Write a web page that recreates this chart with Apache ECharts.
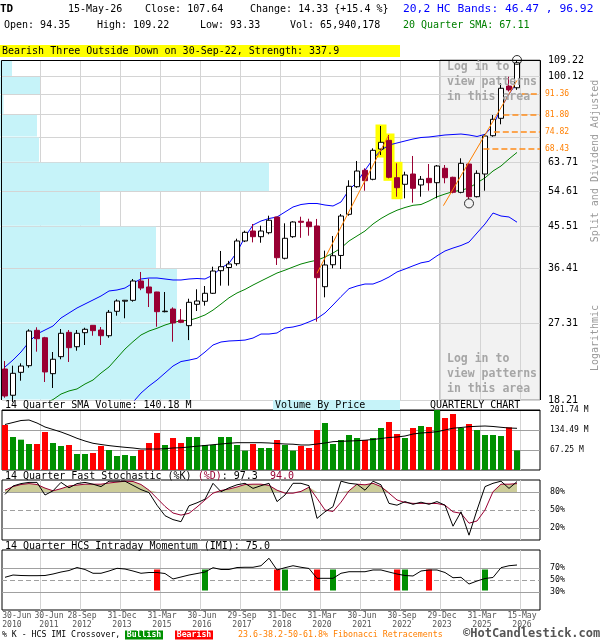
<!DOCTYPE html>
<html>
<head>
<meta charset="utf-8">
<title>TD Quarterly Chart</title>
<script src="https://cdn.jsdelivr.net/npm/echarts@6.0.0/dist/echarts.min.js"></script>
<style>
html,body{margin:0;padding:0;background:#fff;}
#chart{width:600px;height:640px;}
</style>
</head>
<body>
<div id="chart"></div>
<script>
// ================= DATA =================
const symbolName = 'TD';
const lastDate = '15-May-26';
const lastVolume = 65940178;
const patternText = 'Bearish Three Outside Down on 30-Sep-22, Strength: 337.9';

// quarterly candles 2010-Q2 .. 2026-Q2
const quarters = [];
for (let y = 2010, q = 2; quarters.length < 65; ) { quarters.push(y + '-Q' + q); q++; if (q > 4) { q = 1; y++; } }

const opens  = [21.44,18.67,21.07,21.82,26.29,25.28,20.92,22.88,26.01,24.11,
                25.96,26.99,26.33,25.55,29.06,30.65,30.79,34.09,33.03,32.17,
                29.00,29.41,27.74,26.94,30.15,30.63,31.95,35.99,36.60,37.35,
                42.09,44.36,43.05,43.97,47.76,38.42,43.05,46.70,46.52,45.55,
                33.08,37.14,39.00,48.44,56.02,61.08,58.25,68.33,71.53,58.75,
                56.74,59.90,56.53,58.55,57.22,61.73,58.87,54.39,63.14,53.15,
                59.90,73.29,80.33,95.20,94.35];
const highs  = [22.36,21.82,22.09,26.43,26.71,25.40,23.45,26.47,26.33,26.33,
                26.65,27.00,26.75,29.26,30.95,30.85,34.45,35.75,34.50,32.20,
                32.17,29.67,29.41,31.05,32.63,33.20,36.76,39.93,37.90,42.60,
                44.43,46.03,45.62,48.09,47.80,46.20,46.70,47.83,47.33,47.27,
                40.00,43.21,48.52,57.95,64.15,61.73,68.58,77.14,73.57,63.37,
                60.63,65.87,59.27,63.14,62.81,62.81,59.05,65.07,63.37,61.08,
                73.84,81.74,96.60,100.00,109.22];
const lows   = [18.43,18.00,20.16,21.59,23.49,20.02,19.40,22.57,22.25,23.61,
                24.33,25.55,24.33,25.28,28.39,28.01,30.57,32.48,29.72,26.79,
                28.90,24.76,27.30,24.97,29.10,29.93,31.83,33.26,33.26,36.95,
                41.85,41.78,41.70,43.60,37.09,38.20,42.80,42.80,43.28,27.51,
                31.28,36.45,36.31,48.09,55.70,54.86,57.95,66.20,58.55,53.15,
                52.70,51.50,53.15,54.86,52.70,57.04,54.10,54.10,52.51,52.95,
                54.86,72.90,77.83,92.50,93.33];
const closes = [18.60,20.96,21.78,26.19,25.15,21.11,22.57,25.88,23.99,25.88,
                26.43,26.24,25.55,28.91,30.68,30.80,34.09,32.85,32.00,29.00,
                29.08,27.32,27.42,30.47,30.68,31.95,35.93,36.76,37.28,42.09,
                44.06,43.05,44.36,46.95,38.54,42.69,46.52,46.45,45.38,34.69,
                37.09,38.95,48.01,56.14,60.85,57.82,67.86,70.79,58.87,55.73,
                59.59,55.56,58.25,57.22,62.48,58.75,54.39,63.37,53.15,60.12,
                73.18,79.91,94.10,93.31,107.64];

// quarterly volume, millions of shares
const volumes = [151.3,111,102,87.4,87.4,127.8,90.8,80.7,84,53.8,
                 53.8,57.2,80.7,67.2,47.1,50.4,47.1,67.2,90.8,124.4,
                 84,107.6,90.8,111,111,84,84,111,111,84,
                 65,87.4,74,74,100.9,84,65,80.7,74,134.5,
                 158,87.4,100.9,117.7,107.6,100.9,107.6,141.2,161.4,121,
                 107.6,141.2,148,144.6,201.74,174.8,188.3,141.2,154.7,134.5,
                 117.7,117.7,114.3,143.5,65.94];
// 14 quarter SMA of volume
const volSma = [153,159.7,166.4,168.1,158,144.6,136.2,127.8,117.7,106.6,
                97.5,89.8,85.7,82,79,76.3,74,70.6,70.6,70.6,
                71.6,74,75,77.3,80,82.4,85.1,87.4,89.8,91.8,
                91.8,91.8,91.8,90.8,89.1,87.4,86.7,84.1,84.1,87.4,
                90.8,95.2,96.5,97.5,98.5,100.2,102.5,105.9,109.3,111,
                114.3,121,124.4,126.1,128.8,134.5,140.5,142.9,145.6,146.9,
                147.9,146.3,143.6,141.2,140.18];

// 20 quarter SMA and 20,2 HC bands
const sma20 = [null,null,null,null,null,17.9,18.25,18.79,19.1,19.3,
               19.81,20.23,20.99,21.67,22.72,23.82,24.76,25.65,26.19,26.57,
               27.03,27.39,27.64,27.7,28.04,28.5,29.24,30.19,31.2,32.0,
               32.61,33.37,34.09,34.81,35.55,36.09,36.69,37.28,37.7,38.04,
               38.67,39.5,40.55,42.09,43.21,44.36,46.03,47.38,48.52,49.49,
               50.21,50.8,51.01,51.96,53.12,53.9,54.6,54.98,55.65,57.17,
               58.69,60.85,62.48,64.84,67.11];
const bandUpper = [21.67,22.48,23.45,24.72,25.78,26.33,26.89,28.05,28.8,29.57,
                   30.2,30.84,31.5,32.34,32.51,32.85,33.73,34.45,34.63,34.63,
                   34.45,34.27,34.27,34.45,34.54,34.45,35.18,36.51,37.42,39.72,
                   42.98,45.79,46.76,47.38,47.76,49.03,50.34,51.01,51.28,51.28,
                   50.87,50.61,51.69,55.06,57.43,61.08,64.83,67.86,69.79,70.53,
                   71.28,72.03,72.6,72.8,73.18,73.57,73.76,73.95,73.57,72.99,
                   73.84,77.14,84.82,91.31,96.92];
const bandLower = [null,null,null,null,null,null,null,null,null,null,
                   null,null,null,null,null,null,18.0,18.89,19.6,20.23,
                   20.99,21.78,22.3,22.47,22.68,23.45,24.33,24.72,24.85,24.9,
                   24.97,25.24,25.78,25.78,25.92,26.61,26.75,27.03,27.48,27.98,
                   28.8,30.04,31.4,32.74,33.2,33.55,33.55,34.09,34.81,35.75,
                   36.31,36.92,37.51,37.81,38.92,39.93,40.55,41.1,41.85,43.9,
                   46.03,48.77,48.01,47.76,46.47];

// 14 quarter fast stochastic
const stochK = [76,90,94,96,96,75,82,96,87,94,
                96,93,89,98,98,98,91,84,79,58,
                40.5,34,30.5,57,62,68,94.5,80.5,87,92,
                94.5,86,90.5,94.5,64,75,94.5,94.5,90.5,36,
                47,55.5,98,94.5,93,83,98,92,61,58,
                64,59.5,63,59.5,64,58,23,47,8,50,
                89,94.5,98,86,97.3];
const stochD = [83,89,92.5,94,92.5,86.5,82,85.5,90,91.5,
                93,93,93,95,96.5,98,97.5,92.5,83,69.5,
                56,45,41.5,44.5,55,66.7,78,82.5,85,88.3,
                92.5,93,93,91,83,78,78,81,88,69.5,
                50,47.5,63,82,93,92,94.5,89,78,66.7,
                62.5,61,61,61,60.8,58,47,44.5,28,31.7,
                50,80.5,93,93,94.0];

// 14 quarter HCS intraday momentum
const imi = [54.5,58.3,57.5,57.2,57.2,57.5,60,63.3,65.8,70.8,
             67.5,61.2,61.2,65,69.5,68.3,65,61.2,62.5,62.5,
             60.8,51.7,55,58.3,60.8,63.3,70.5,67.5,67.5,70.8,
             71.2,71.2,73.8,86.2,66.7,70.5,73.8,71.2,69.2,52.8,
             52.8,52.8,61.2,63.8,63.8,63.8,66.7,66.7,63.3,60,
             57.5,56.7,65,66.7,66.7,62.5,53.8,54.5,43.3,48.3,
             52.5,54.2,70.5,73.8,75.0];
const bullishX = [25, 35, 41, 50, 60];
const bearishX = [19, 34, 39, 49, 53];

// price axis (logarithmic)
const priceGridLines = [18.21,27.31,36.41,45.51,54.61,63.71,72.81,81.91,91.01,100.12,109.22];
const priceAxisLabels = ['18.21','27.31','36.41','45.51','54.61','63.71','100.12','109.22'];
// fibonacci retracements
const fibLevels = [91.36, 81.80, 74.82, 68.43];
const fibStart  = [64.6, 62.3, 61.1, 59.8];
// trend lines [quarter index, price]
const trendLineA = [[39, 35.5], [47.9, 73.2]];
const trendLineB = [[54.8, 50.7], [64, 98.1]];
// highlighted pattern candles and pattern markers
const patternIdx = [47, 48, 49];
const patternMarks = [[58, 51.3], [64, 109.22]];
// volume by price, one value per price band (bottom band first)
const vbpVolume = [188, 175, 154, 98, 267, 37, 35, 1.5, 38, 10];
const vbpAxisMax = 538;

// other axes
const volAxisMax = 201.74;
const volAxisLabels = [201.74, 134.49, 67.25];
const stochLevels = [80, 50, 20];
const imiLevels = [70, 50, 30];
const xTickLabels = ['30-Jun\n2010','30-Jun\n2011','28-Sep\n2012','31-Dec\n2013','31-Mar\n2015',
                     '30-Jun\n2016','29-Sep\n2017','31-Dec\n2018','31-Mar\n2020','30-Jun\n2021',
                     '30-Sep\n2022','29-Dec\n2023','31-Mar\n2025','15-May\n2026'];

// ================= LAYOUT =================
const MONO = '"DejaVu Sans Mono", "Liberation Mono", monospace';
const X_MIN = -0.375, X_MAX = 66.875;
const xGridValues = [4.375,9.375,14.375,19.375,24.375,29.375,34.375,39.375,44.375,49.375,54.375,59.375,64.375];
// label anchors: first two labels are nudged apart as in the reference
const xLabelValues = [X_MIN + 0.02, 5.5, 9.625, 14.625, 19.625, 24.625, 29.625, 34.625, 39.625, 44.625, 49.625, 54.625, 59.625, 64.625];
const SHADE_FROM = 54.375;
const L = closes.length - 1;
const idx = closes.map((_, i) => i);
const lineXY = arr => arr.map((v, i) => v == null ? null : [i, v]).filter(d => d);
const f2 = v => v.toFixed(2);

function xAxisFor(gridIndex, withLabels, z) {
  return {
    type: 'value', gridIndex: gridIndex, min: X_MIN, max: X_MAX, z: z,
    axisLine: { show: false },
    axisTick: { show: false, customValues: xGridValues },
    splitLine: { show: true, lineStyle: { color: '#d4d4d4', width: 1 } },
    axisLabel: withLabels ? {
      show: true, customValues: xLabelValues, showMinLabel: true, showMaxLabel: true, hideOverlap: false,
      formatter: v => xTickLabels[Math.round((v + 0.625) / 5)],
      fontFamily: MONO, fontSize: 8.1, lineHeight: 8.5, color: '#555', margin: 2,
      alignMinLabel: 'left'
    } : { show: false }
  };
}

function txt(x, y, text, size, color, opts) {
  opts = opts || {};
  return {
    type: 'text', x: x, y: y, silent: true, z: 200, rotation: opts.rotation || 0,
    style: Object.assign({
      text: text, fill: color || '#000',
      font: (opts.weight ? opts.weight + ' ' : '') + size + 'px ' + MONO,
      align: opts.align || 'left', verticalAlign: opts.va || 'middle'
    }, opts.style || {})
  };
}

const change = closes[L] - closes[L - 1];
const pct = change / closes[L - 1] * 100;

const graphics = [
  { type: 'polyline', silent: true, z: 150, shape: { points: [[1.5, 400], [1.5, 60.5], [540.5, 60.5], [540.5, 400]] }, style: { stroke: '#000', lineWidth: 1, fill: null } },
  txt(0, 9, symbolName, 11, '#000', { weight: 'bold' }),
  txt(68, 9, lastDate, 10),
  txt(145, 9, 'Close: ' + f2(closes[L]), 10),
  txt(250, 9, 'Change: ' + f2(change) + ' {' + (pct >= 0 ? '+' : '') + pct.toFixed(1) + ' %}', 10),
  txt(403, 9, '20,2 HC Bands: ' + f2(bandLower[L]) + ' , ' + f2(bandUpper[L]), 11.3, '#0000ff'),
  txt(4, 25, 'Open: ' + f2(opens[L]), 10),
  txt(97, 25, 'High: ' + f2(highs[L]), 10),
  txt(200, 25, 'Low: ' + f2(lows[L]), 10),
  txt(290, 25, 'Vol: ' + lastVolume.toLocaleString('en-US'), 10),
  txt(403, 25, '20 Quarter SMA: ' + f2(sma20[L]), 10, '#008000'),
  { type: 'rect', silent: true, z: 150, shape: { x: 0, y: 45, width: 400, height: 12 }, style: { fill: '#ffff00' } },
  txt(2, 51, patternText, 10),
  txt(447, 60, 'Log in to\nview patterns\nin this area', 11.5, '#a6a6a6', { weight: 'bold', va: 'top', style: { lineHeight: 15 } }),
  txt(447, 351.5, 'Log in to\nview patterns\nin this area', 11.5, '#a6a6a6', { weight: 'bold', va: 'top', style: { lineHeight: 15 } }),
  txt(595, 161, 'Split and Dividend Adjusted', 10, '#999', { rotation: Math.PI / 2, align: 'center' }),
  txt(595, 338, 'Logarithmic', 10, '#999', { rotation: Math.PI / 2, align: 'center' }),
  txt(5, 405, '14 Quarter SMA Volume: ' + f2(volSma[L]) + ' M', 10),
  { type: 'rect', silent: true, z: 150, shape: { x: 273, y: 400, width: 127, height: 10 }, style: { fill: '#c6f3f9' } },
  txt(275, 405, 'Volume By Price', 10),
  txt(430, 405, 'QUARTERLY CHART', 10),
  { type: 'text', x: 5, y: 476, silent: true, z: 200, style: {
      text: '{k|14 Quarter Fast Stochastic (%K) }{d|(%D)}{k|: ' + stochK[L].toFixed(1) + '  }{d|' + stochD[L].toFixed(1) + '}',
      verticalAlign: 'middle', align: 'left',
      rich: { k: { fill: '#000', font: '10px ' + MONO }, d: { fill: '#990033', font: '10px ' + MONO } } } },
  txt(5, 546, '14 Quarter HCS Intraday Momentum (IMI): ' + imi[L].toFixed(1), 10),
  txt(2, 635, '% K - HCS IMI Crossover,', 8.2),
  { type: 'rect', silent: true, z: 150, shape: { x: 125, y: 630.5, width: 38, height: 9 }, style: { fill: '#009000' } },
  txt(144, 635, 'Bullish', 8.2, '#fff', { align: 'center', weight: 'bold' }),
  { type: 'rect', silent: true, z: 150, shape: { x: 175, y: 630.5, width: 38, height: 9 }, style: { fill: '#ff0000' } },
  txt(194, 635, 'Bearish', 8.2, '#fff', { align: 'center', weight: 'bold' }),
  txt(238, 635, '23.6-38.2-50-61.8% Fibonacci Retracements', 8.3, '#ff7f00'),
  txt(463, 634, '\u00A9HotCandlestick.com', 12, '#555', { weight: 'bold' })
];

const markLineBase = { silent: true, symbol: ['none', 'none'], animation: false, emphasis: { disabled: true } };

const option = {
  animation: false,
  backgroundColor: '#fff',
  textStyle: { fontFamily: MONO },
  grid: [
    { left: 2, top: 60, width: 538, height: 340, show: false, containLabel: false, outerBoundsMode: 'none' },
    { left: 2, top: 410, width: 538, height: 60, show: true, borderColor: '#000', borderWidth: 1, backgroundColor: 'transparent', containLabel: false, outerBoundsMode: 'none' },
    { left: 2, top: 480, width: 538, height: 60, show: true, borderColor: '#000', borderWidth: 1, backgroundColor: 'transparent', containLabel: false, outerBoundsMode: 'none' },
    { left: 2, top: 550, width: 538, height: 60, show: true, borderColor: '#000', borderWidth: 1, backgroundColor: 'transparent', containLabel: false, outerBoundsMode: 'none' }
  ],
  xAxis: [
    xAxisFor(0, false, 1),
    { type: 'value', gridIndex: 0, min: 0, max: vbpAxisMax, show: false },
    xAxisFor(1, false, 0),
    xAxisFor(2, false, 0),
    xAxisFor(3, true, 0)
  ],
  yAxis: [
    { type: 'log', gridIndex: 0, min: priceGridLines[0], max: priceGridLines[priceGridLines.length - 1], show: false },
    { type: 'value', gridIndex: 1, min: 0, max: volAxisMax, show: false },
    { type: 'value', gridIndex: 2, min: 0, max: 100, show: false },
    { type: 'value', gridIndex: 3, min: 0, max: 100, show: false }
  ],
  series: [
    // ---- main price panel ----
    { type: 'line', name: 'HC Upper', xAxisIndex: 0, yAxisIndex: 0, data: lineXY(bandUpper), symbol: 'none', z: 4, silent: true,
      lineStyle: { color: '#0000ff', width: 1 },
      markLine: Object.assign({}, markLineBase, { z: 1,
        lineStyle: { color: '#d4d4d4', type: 'solid', width: 1 },
        label: { show: true, position: 'end', distance: 8, formatter: '{b}', color: '#000', fontFamily: MONO, fontSize: 10, padding: [0, 0, 5, 0] },
        data: priceGridLines.map(v => ({ yAxis: v, name: f2(v), label: { show: priceAxisLabels.indexOf(f2(v)) >= 0 } })) }),
      markArea: { silent: true, z: 0, animation: false, itemStyle: { color: '#f2f2f2', borderColor: '#8c8c8c', borderWidth: 1 }, emphasis: { disabled: true },
        data: [[{ xAxis: SHADE_FROM }, { xAxis: X_MAX }]] } },
    { type: 'line', name: 'HC Lower', xAxisIndex: 0, yAxisIndex: 0, data: lineXY(bandLower), symbol: 'none', z: 4, silent: true,
      lineStyle: { color: '#0000ff', width: 1 } },
    { type: 'line', name: 'SMA 20', xAxisIndex: 0, yAxisIndex: 0, data: lineXY(sma20), symbol: 'none', z: 4, silent: true,
      lineStyle: { color: '#008000', width: 1 } },
    { type: 'custom', name: 'Volume By Price', xAxisIndex: 1, yAxisIndex: 0, z: 2, silent: true,
      data: vbpVolume.map((v, k) => [priceGridLines[k], priceGridLines[k + 1], v]),
      encode: { x: 2, y: [0, 1] },
      renderItem: (params, api) => {
        const p0 = api.coord([0, api.value(1)]);
        const p1 = api.coord([api.value(2), api.value(0)]);
        return { type: 'rect', shape: { x: p0[0] - 2, y: p0[1] + 0.5, width: p1[0] - p0[0] + 2, height: p1[1] - p0[1] - 1 }, style: { fill: '#c6f3f9' } };
      } },
    { type: 'custom', name: 'Pattern', xAxisIndex: 0, yAxisIndex: 0, z: 3, silent: true,
      data: patternIdx.map(i => [i, highs[i], lows[i]]),
      encode: { x: 0, y: [1, 2] },
      renderItem: (params, api) => {
        const p0 = api.coord([api.value(0), api.value(1)]);
        const p1 = api.coord([api.value(0), api.value(2)]);
        return { type: 'rect', shape: { x: p0[0] - 5.5, y: p0[1] - 1.5, width: 11, height: p1[1] - p0[1] + 4 }, style: { fill: '#ffff00' } };
      } },
    { type: 'candlestick', name: symbolName, xAxisIndex: 0, yAxisIndex: 0, z: 5, silent: true, barWidth: 5,
      data: idx.map(i => [i, opens[i], closes[i], lows[i], highs[i]]),
      itemStyle: { color: '#ffffff', color0: '#990033', borderColor: '#000000', borderColor0: '#990033', borderWidth: 1 } },
    { type: 'line', name: 'Trend A', xAxisIndex: 0, yAxisIndex: 0, data: trendLineA, symbol: 'none', z: 6, silent: true,
      lineStyle: { color: '#ff8000', width: 1 },
      markLine: Object.assign({}, markLineBase, { z: 6,
        lineStyle: { color: '#ff8c1a', type: [6, 3], width: 1.5 },
        label: { show: true, position: 'end', distance: 5, formatter: '{b}', color: '#ff7f00', fontFamily: MONO, fontSize: 8 },
        data: fibLevels.map((v, k) => [{ coord: [fibStart[k], v], name: f2(v) }, { coord: [X_MAX, v] }]) }) },
    { type: 'line', name: 'Trend B', xAxisIndex: 0, yAxisIndex: 0, data: trendLineB, symbol: 'none', z: 6, silent: true,
      lineStyle: { color: '#ff8000', width: 1 } },
    { type: 'scatter', name: 'Marks', xAxisIndex: 0, yAxisIndex: 0, data: patternMarks, symbol: 'circle', symbolSize: 9, z: 7, silent: true,
      itemStyle: { color: 'rgba(255,255,255,0)', borderColor: '#000', borderWidth: 1 } },

    // ---- volume panel ----
    { type: 'bar', name: 'Volume', xAxisIndex: 2, yAxisIndex: 1, barWidth: 6, z: 2, silent: true,
      data: volumes.map((v, i) => ({ value: [i, v], itemStyle: { color: closes[i] >= opens[i] ? '#009000' : '#ff0000' } })) },
    { type: 'line', name: 'Vol SMA', xAxisIndex: 2, yAxisIndex: 1, data: lineXY(volSma), symbol: 'none', z: 3, silent: true,
      lineStyle: { color: '#000', width: 1 },
      markLine: Object.assign({}, markLineBase, { z: 1,
        lineStyle: { color: '#a0a0a0', type: 'solid', width: 1 },
        label: { show: true, position: 'end', distance: 10, formatter: '{b}', color: '#000', fontFamily: MONO, fontSize: 8, padding: [3, 0, 0, 0] },
        data: volAxisLabels.map(v => Object.assign({ yAxis: v, name: f2(v) + ' M' }, v >= volAxisMax ? { lineStyle: { color: '#000' } } : {})) }) },

    // ---- stochastic panel ----
    { type: 'line', name: 'Stoch fill', xAxisIndex: 3, yAxisIndex: 2, data: lineXY(stochD.map(v => Math.max(v, stochLevels[0]))),
      symbol: 'none', z: 2, silent: true, lineStyle: { width: 0, opacity: 0 },
      areaStyle: { origin: stochLevels[0], color: '#cccc99', opacity: 1 } },
    { type: 'line', name: '%D', xAxisIndex: 3, yAxisIndex: 2, data: lineXY(stochD), symbol: 'none', z: 3, silent: true,
      lineStyle: { color: '#990033', width: 1 } },
    { type: 'line', name: '%K', xAxisIndex: 3, yAxisIndex: 2, data: lineXY(stochK), symbol: 'none', z: 4, silent: true,
      lineStyle: { color: '#000', width: 1 },
      markLine: Object.assign({}, markLineBase, { z: 1,
        lineStyle: { color: '#a0a0a0', type: 'solid', width: 1 },
        label: { show: true, position: 'end', distance: 10, formatter: '{b}', color: '#000', fontFamily: MONO, fontSize: 8.3 },
        data: stochLevels.map(v => Object.assign({ yAxis: v, name: v + '%' }, v === 50 ? { lineStyle: { type: [5, 3] } } : {})) }) },

    // ---- IMI panel ----
    { type: 'custom', name: 'IMI crossover', xAxisIndex: 4, yAxisIndex: 3, z: 2, silent: true,
      data: bullishX.map(i => [i, 1]).concat(bearishX.map(i => [i, 0])),
      encode: { x: 0 },
      renderItem: (params, api) => {
        const t = api.coord([api.value(0), imiLevels[0]]);
        const b = api.coord([api.value(0), imiLevels[2]]);
        return { type: 'rect', shape: { x: t[0] - 3, y: t[1] + 1.5, width: 6, height: b[1] - t[1] - 3 },
                 style: { fill: api.value(1) ? '#009000' : '#ff0000' } };
      } },
    { type: 'line', name: 'IMI', xAxisIndex: 4, yAxisIndex: 3, data: lineXY(imi), symbol: 'none', z: 3, silent: true,
      lineStyle: { color: '#000', width: 1 },
      markLine: Object.assign({}, markLineBase, { z: 1,
        lineStyle: { color: '#a0a0a0', type: 'solid', width: 1 },
        label: { show: true, position: 'end', distance: 10, formatter: '{b}', color: '#000', fontFamily: MONO, fontSize: 8.3 },
        data: imiLevels.map(v => Object.assign({ yAxis: v, name: v + '%' }, v === 50 ? { lineStyle: { type: [5, 3] } } : {})) }) }
  ],
  graphic: { elements: graphics }
};

const chart = echarts.init(document.getElementById('chart'), null, { renderer: 'canvas' });
chart.setOption(option);
</script>
</body>
</html>
